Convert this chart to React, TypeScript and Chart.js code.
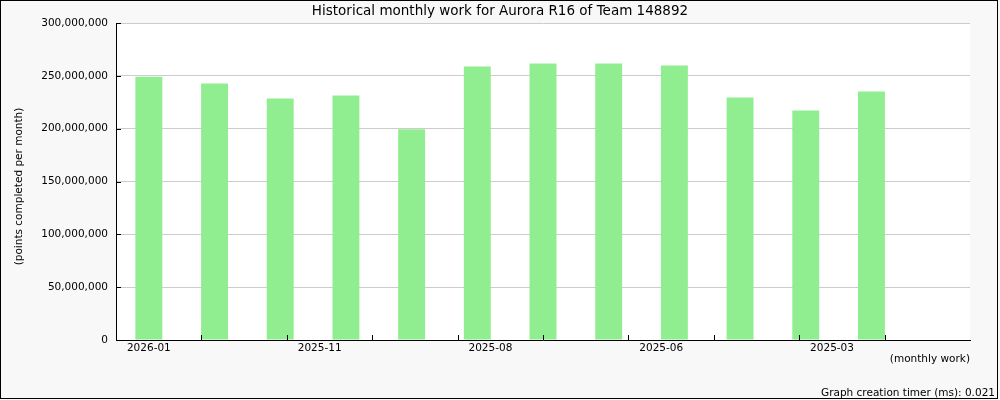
import React, { useEffect, useRef } from 'react';
import { Chart, registerables } from 'chart.js';

Chart.register(...registerables);

const MONTHS = ['2026-01', '2025-12', '2025-11', '2025-10', '2025-09', '2025-08', '2025-07', '2025-06', '2025-05', '2025-04', '2025-03', '2025-02', '2025-01'];
const POINTS: (number | null)[] = [249050000, 242700000, 228500000, 231300000, 199400000, 258800000, 261600000, 261600000, 259700000, 229400000, 217100000, 235200000, null];
const TICK_LABELS = ['2026-01', '2025-11', '2025-08', '2025-06', '2025-03'];
const TICK_LABEL_SLOTS = [0, 2.6, 5.2, 7.8, 10.4];
const TICK_MARK_SLOTS = [0.8, 2.1, 3.4, 4.7, 6.0, 7.3, 8.6, 9.9, 11.2];

const TITLE = 'Historical monthly work for Aurora R16 of Team 148892';
const Y_TITLE = '(points completed per month)';
const X_TITLE = '(monthly work)';
const TIMER = 'Graph creation timer (ms): 0.021';

const FONT = 'DejaVu Sans';

const decor = {
  id: 'decor',
  beforeDraw(chart: any) {
    const { ctx, chartArea, width, height } = chart;
    ctx.save();
    ctx.fillStyle = '#f8f8f8';
    ctx.fillRect(0, 0, width, height);
    ctx.fillStyle = '#ffffff';
    ctx.fillRect(chartArea.left, chartArea.top, chartArea.right - chartArea.left, chartArea.bottom - chartArea.top);
    ctx.restore();
  },
  afterDraw(chart: any) {
    const { ctx, chartArea } = chart;
    const xs = chart.scales.x;
    const ys = chart.scales.y;
    ctx.save();
    ctx.strokeStyle = '#000';
    ctx.lineWidth = 1;
    ctx.beginPath();
    for (const v of TICK_MARK_SLOTS) {
      const px = Math.round(xs.getPixelForValue(v)) + 0.5;
      ctx.moveTo(px, chartArea.bottom);
      ctx.lineTo(px, chartArea.bottom - 5);
    }
    for (const t of ys.ticks) {
      const py = Math.round(ys.getPixelForValue(t.value)) + 0.5;
      ctx.moveTo(chartArea.left, py);
      ctx.lineTo(chartArea.left + 5, py);
    }
    ctx.stroke();

    ctx.fillStyle = '#000';
    ctx.font = `10.5px "${FONT}"`;
    ctx.textAlign = 'right';
    ctx.textBaseline = 'middle';
    ctx.fillText(TIMER, 995, 393);

    ctx.save();
    ctx.translate(19, 186.5);
    ctx.rotate(-Math.PI / 2);
    ctx.textAlign = 'center';
    ctx.fillText(Y_TITLE, 0, 0);
    ctx.restore();

    ctx.strokeRect(0.5, 0.5, 997, 398);
    ctx.restore();
  },
};

export default function App() {
  const ref = useRef<HTMLCanvasElement | null>(null);
  useEffect(() => {
    document.body.style.margin = '0';
    if (!ref.current) return;
    const chart = new Chart(ref.current, {
      type: 'bar',
      data: {
        labels: MONTHS,
        datasets: [
          {
            data: POINTS.map((v, i) => ({ x: i, y: v })) as any,
            backgroundColor: '#90ee90',
            borderWidth: 0,
            barPercentage: 0.41,
            categoryPercentage: 1,
          },
        ],
      },
      options: {
        animation: false,
        responsive: false,
        devicePixelRatio: 1,
        layout: { padding: { left: 30, right: 30, top: 0, bottom: 0 } },
        plugins: {
          legend: { display: false },
          tooltip: { enabled: false },
          title: {
            display: true,
            text: TITLE,
            color: '#000',
            font: { family: FONT, size: 13.5, weight: 'normal' },
            padding: { top: 2.9, bottom: 3.9 },
          },
        },
        scales: {
          x: {
            type: 'linear',
            min: -0.5,
            max: 12.5,
            offset: false,
            grid: { display: false, drawTicks: false },
            border: { display: true, color: '#000', width: 1 },
            afterBuildTicks(scale: any) {
              scale.ticks = TICK_LABEL_SLOTS.map((v) => ({ value: v }));
            },
            afterFit(scale: any) {
              scale.height = 60;
            },
            ticks: {
              autoSkip: false,
              maxRotation: 0,
              padding: 2,
              color: '#000',
              font: { family: FONT, size: 10.5 },
              callback: (_v: any, i: number) => TICK_LABELS[i],
            },
            title: {
              display: true,
              text: X_TITLE,
              align: 'end',
              color: '#000',
              font: { family: FONT, size: 10.5 },
              padding: { top: 0, bottom: 34.7 },
            },
          },
          y: {
            min: 0,
            max: 300000000,
            grid: { color: '#cccccc', drawTicks: false },
            border: { display: true, color: '#000', width: 1 },
            afterFit(scale: any) {
              scale.width = 86;
            },
            ticks: {
              stepSize: 50000000,
              padding: 8,
              color: '#000',
              font: { family: FONT, size: 10.5 },
              callback: (v: any) => Number(v).toLocaleString('en-US'),
            },
          },
        },
      },
      plugins: [decor],
    } as any);
    return () => chart.destroy();
  }, []);
  return <canvas ref={ref} width={1000} height={400} style={{ display: 'block', width: 1000, height: 400 }} />;
}
